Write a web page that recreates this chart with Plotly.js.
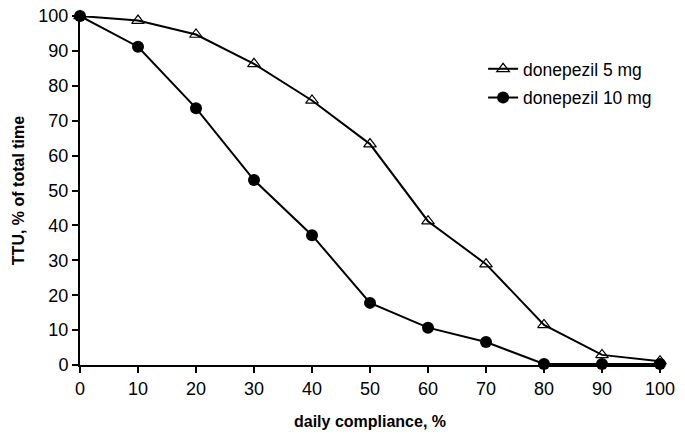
<!DOCTYPE html>
<html>
<head>
<meta charset="utf-8">
<script src="https://cdn.plot.ly/plotly-3.0.1.min.js"></script>
<style>
  body { margin: 0; background: #fff; }
  #chart { width: 685px; height: 438px; }
</style>
</head>
<body>
<div id="chart"></div>
<script>
// daily compliance, %
var compliance = [0, 10, 20, 30, 40, 50, 60, 70, 80, 90, 100];
// TTU, % of total time
var dose5mg = [100, 98.7, 94.7, 86.3, 75.8, 63.3, 41.2, 28.9, 11.5, 2.9, 1.1];
var dose10mg = [100, 91.2, 73.6, 53.0, 37.2, 17.8, 10.7, 6.6, 0.3, 0.3, 0.3];
var seriesNames = ["donepezil 5 mg", "donepezil 10 mg"];

var fontFamily = "Liberation Sans, Arial, sans-serif";

var traces = [
    {
        x: compliance,
        y: dose5mg,
        name: seriesNames[0],
        legendgroup: "a",
        type: "scatter",
        mode: "lines+markers",
        cliponaxis: false,
        line: {color: "black", width: 2},
        marker: {symbol: "triangle-up-open", size: 11, color: "black",
            line: {width: 1.2, color: "black"}}
    },
    {
        x: compliance,
        y: dose10mg,
        name: seriesNames[1],
        legendgroup: "b",
        type: "scatter",
        mode: "lines+markers",
        cliponaxis: false,
        line: {color: "black", width: 2},
        marker: {symbol: "circle", size: 12, color: "black"}
    }
];

var layout = {
    width: 685,
    height: 438,
    margin: {l: 80, r: 25, t: 16, b: 73},
    paper_bgcolor: "white",
    plot_bgcolor: "white",
    font: {family: fontFamily, size: 18, color: "black"},
    showlegend: true,
    legend: {
        x: 0.695, y: 0.9, xanchor: "left", yanchor: "top",
        font: {size: 17.5, color: "black"},
        bgcolor: "rgba(0,0,0,0)",
        traceorder: "grouped",
        tracegroupgap: 3
    },
    xaxis: {
        range: [0, 100],
        tickvals: compliance,
        showgrid: false,
        zeroline: false,
        showline: true,
        linecolor: "black",
        linewidth: 2,
        ticks: "outside",
        ticklen: 6,
        tickwidth: 2,
        tickcolor: "black",
        tickfont: {size: 18},
        title: {text: "<b>daily compliance, %</b>", font: {size: 16}, standoff: 18}
    },
    yaxis: {
        range: [0, 100],
        dtick: 10,
        showgrid: false,
        zeroline: false,
        showline: true,
        linecolor: "black",
        linewidth: 2,
        ticks: "outside",
        ticklen: 6,
        tickwidth: 2,
        tickcolor: "black",
        tickfont: {size: 18},
        title: {text: "<b>TTU, % of total time</b>", font: {size: 16}, standoff: 10}
    }
};

Plotly.newPlot("chart", traces, layout, {displayModeBar: false, staticPlot: true});
</script>
</body>
</html>
